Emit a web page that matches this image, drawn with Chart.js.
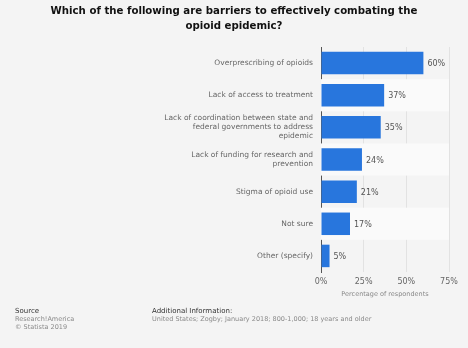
<!DOCTYPE html>
<html>
<head>
<meta charset="utf-8">
<script src="https://cdn.jsdelivr.net/npm/chart.js@4"></script>
<style>
  body { margin: 0; background: #f4f4f4; font-family: "DejaVu Sans", sans-serif; }
  #wrap { position: relative; width: 468px; height: 348px; }
  #chart { position: absolute; left: 0; top: 0; }
  .title { position: absolute; left: 0; width: 468px; top: 3px; text-align: center;
    font-weight: bold; font-size: 10.2px; line-height: 15px; color: #111; }
  .foot { position: absolute; font-size: 6.5px; line-height: 8px; color: #8a8a8a; }
  .foot b { color: #333; font-size: 7px; font-weight: normal; }
</style>
</head>
<body>
<div id="wrap">
  <canvas id="chart" width="468" height="348"></canvas>
  <div class="title">Which of the following are barriers to effectively combating the<br>opioid epidemic?</div>
  <div class="foot" style="left:15px; top:307px;"><b>Source</b><br>Research!America<br>© Statista 2019</div>
  <div class="foot" style="left:152px; top:307px;"><b>Additional Information:</b><br>United States; Zogby; January 2018; 800-1,000; 18 years and older</div>
</div>
<script>
const categories = [
  "Overprescribing of opioids",
  "Lack of access to treatment",
  ["Lack of coordination between state and", "federal governments to address", "epidemic"],
  ["Lack of funding for research and", "prevention"],
  "Stigma of opioid use",
  "Not sure",
  "Other (specify)",
];
const values = [60, 37, 35, 24, 21, 17, 5];
const xTicks = [0, 25, 50, 75];

// alternating row bands behind the bars
const bandPlugin = {
  id: "bands",
  beforeDatasetsDraw(chart) {
    const { ctx, chartArea, scales } = chart;
    const y = scales.y;
    ctx.save();
    ctx.fillStyle = "#fafafa";
    for (let i = 1; i < categories.length; i += 2) {
      const top = y.getPixelForValue(i - 0.5);
      const bottom = y.getPixelForValue(i + 0.5);
      ctx.fillRect(chartArea.left, top, chartArea.right - chartArea.left, bottom - top);
    }
    ctx.restore();
  },
};

// value labels to the right of bars
const labelPlugin = {
  id: "valueLabels",
  afterDatasetsDraw(chart) {
    const { ctx } = chart;
    const meta = chart.getDatasetMeta(0);
    ctx.save();
    ctx.font = "8px 'DejaVu Sans'";
    ctx.fillStyle = "#555";
    ctx.textBaseline = "middle";
    meta.data.forEach((bar, i) => {
      ctx.fillText(values[i] + "%", bar.x + 4, bar.y + 1);
    });
    ctx.restore();
  },
};

new Chart(document.getElementById("chart"), {
  type: "bar",
  data: {
    labels: categories,
    datasets: [
      {
        data: values,
        backgroundColor: "#2876dd",
        borderColor: "#2876dd",
        borderWidth: 0,
        barPercentage: 0.7,
        categoryPercentage: 1,
      },
    ],
  },
  options: {
    indexAxis: "y",
    responsive: false,
    animation: false,
    layout: { padding: { top: 47, right: 19, bottom: 46, left: 0 } },
    scales: {
      x: {
        min: 0,
        max: 75,
        afterBuildTicks: (scale) => {
          scale.ticks = xTicks.map((v) => ({ value: v }));
        },
        afterFit: (scale) => {
          scale.height = 30;
        },
        grid: { color: "#e2e2e2", drawTicks: false },
        border: { display: false },
        ticks: {
          padding: 5,
          color: "#666",
          font: { family: "DejaVu Sans", size: 8 },
          callback: (v) => v + "%",
        },
        title: {
          display: true,
          text: "Percentage of respondents",
          color: "#888",
          font: { family: "DejaVu Sans", size: 6.5 },
          padding: { top: 4 },
        },
      },
      y: {
        afterFit: (scale) => {
          scale.width = 321;
        },
        grid: { display: false },
        border: { display: true, color: "#555", width: 1 },
        ticks: {
          padding: 0,
          color: "#666",
          font: { family: "DejaVu Sans", size: 7.5, lineHeight: 1.2 },
        },
      },
    },
    plugins: {
      legend: { display: false },
      tooltip: { enabled: false },
    },
  },
  plugins: [bandPlugin, labelPlugin],
});
</script>
</body>
</html>
